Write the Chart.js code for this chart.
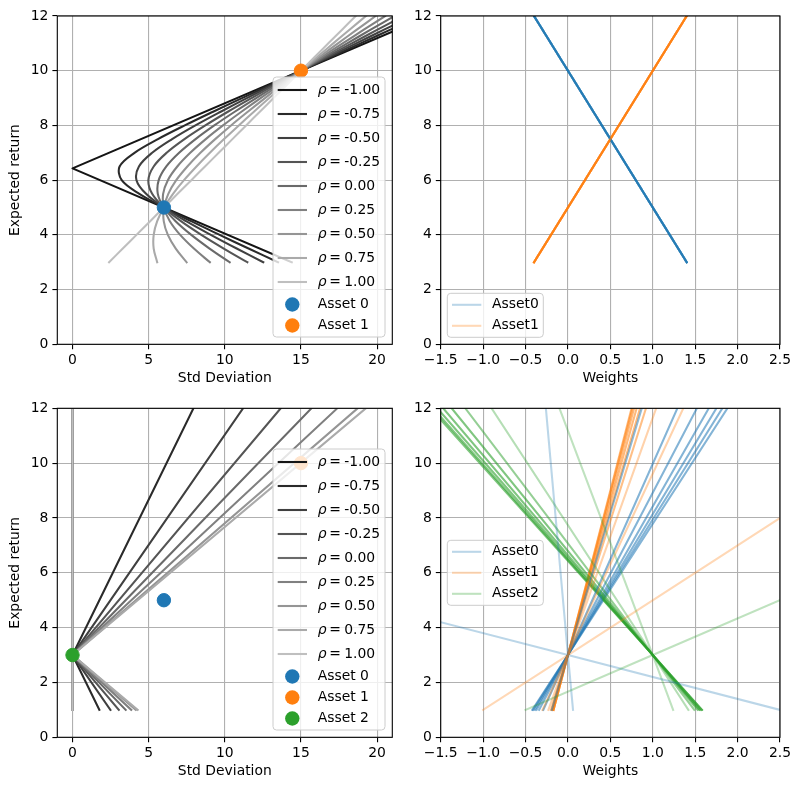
<!DOCTYPE html>
<html lang="en">
<head>
<meta charset="UTF-8">
<title>Portfolio frontiers</title>
<script src="https://cdn.jsdelivr.net/npm/chart.js"></script>
<style>
  body { margin: 0; background: #fff; }
  canvas { position: absolute; }
</style>
</head>
<body>
<canvas id="tl" width="400" height="395" style="left:0;top:0"></canvas>
<canvas id="tr" width="400" height="395" style="left:400px;top:0"></canvas>
<canvas id="bl" width="400" height="395" style="left:0;top:395px"></canvas>
<canvas id="br" width="400" height="395" style="left:400px;top:395px"></canvas>
<script>
// ---- data ----
const rhoLabels = ['-1.00', '-0.75', '-0.50', '-0.25', '0.00', '0.25', '0.50', '0.75', '1.00'];
const rhoGreys = ['#151515', '#2a2a2a', '#404040', '#555555', '#6a6a6a', '#808080', '#959595', '#aaaaaa', '#bfbfbf'];

// assets: std deviation / expected return
const assetStd = [6, 15, 0];
const assetRet = [5, 10, 3];

// top left: std deviation of the two asset mix, read at these returns
const tlReturns = [3, 3.5, 4, 4.5, 5, 5.5, 6, 6.5, 7, 7.5, 8, 8.5, 9, 9.5, 10, 10.5, 11, 11.5, 12];
const tlStd = [
  null, // rho = -1 uses the two straight legs below
  [13.50, 11.56, 9.66, 7.79, 6.00, 4.39, 3.23, 3.09, 4.07, 5.61, 7.37, 9.23, 11.13, 13.06, 15.00, 16.96, 18.92, 20.88, 22.86],
  [12.53, 10.78, 9.08, 7.46, 6.00, 4.83, 4.20, 4.36, 5.23, 6.54, 8.07, 9.73, 11.45, 13.21, 15.00, 16.81, 18.63, 20.46, 22.30],
  [11.48, 9.93, 8.46, 7.12, 6.00, 5.23, 4.98, 5.33, 6.18, 7.35, 8.72, 10.20, 11.76, 13.36, 15.00, 16.66, 18.34, 20.03, 21.72],
  [10.32, 9.00, 7.80, 6.77, 6.00, 5.60, 5.66, 6.16, 7.00, 8.08, 9.31, 10.65, 12.06, 13.51, 15.00, 16.51, 18.04, 19.58, 21.14],
  [9.02, 7.97, 7.07, 6.39, 6.00, 5.95, 6.26, 6.88, 7.73, 8.75, 9.88, 11.09, 12.35, 13.66, 15.00, 16.36, 17.74, 19.13, 20.53],
  [7.49, 6.78, 6.26, 5.99, 6.00, 6.29, 6.81, 7.54, 8.40, 9.37, 10.41, 11.51, 12.64, 13.81, 15.00, 16.21, 17.43, 18.67, 19.91],
  [5.56, 5.33, 5.33, 5.56, 6.00, 6.60, 7.32, 8.14, 9.02, 9.95, 10.92, 11.91, 12.92, 13.96, 15.00, 16.06, 17.12, 18.19, 19.27],
  [2.40, 3.30, 4.20, 5.10, 6.00, 6.90, 7.80, 8.70, 9.60, 10.50, 11.40, 12.30, 13.20, 14.10, 15.00, 15.90, 16.80, 17.70, 18.60]
];
const tlRetRhoM1 = [3, 6.43, 12];
const tlStdRhoM1 = [14.4, 0, 23.4];

// top right: weights (same for every rho)
const trReturns = [3, 12];
const trW0 = [1.4, -0.4];
const trW1 = [-0.4, 1.4];

// bottom left: with the riskless asset 2
const blReturns = [1, 3, 12];
const blStd = [
  [0, 0, 0], [1.76, 0, 7.94], [2.49, 0, 11.20], [3.04, 0, 13.67], [3.49, 0, 15.69],
  [3.86, 0, 17.39], [4.16, 0, 18.72], [4.28, 0, 19.26], [0, 0, 0]
];

// bottom right: weights of the three assets
const brReturns = [1, 3, 12];
const brW0 = [
  [-0.42, 0, 1.88], [-0.41, 0, 1.82], [-0.39, 0, 1.75], [-0.37, 0, 1.66], [-0.34, 0, 1.52],
  [-0.29, 0, 1.29], [-0.19, 0, 0.87], [0.06, 0, -0.26], [2.5, 0, -11.25]
];
const brW1 = [
  [-0.17, 0, 0.75], [-0.17, 0, 0.76], [-0.17, 0, 0.78], [-0.18, 0, 0.81], [-0.19, 0, 0.85],
  [-0.20, 0, 0.92], [-0.23, 0, 1.04], [-0.30, 0, 1.36], [-1.0, 0, 4.5]
];
const brW2 = [
  [1.58, 1, -1.62], [1.58, 1, -1.59], [1.56, 1, -1.54], [1.55, 1, -1.47], [1.53, 1, -1.37],
  [1.49, 1, -1.21], [1.42, 1, -0.90], [1.24, 1, -0.10], [-0.5, 1, 7.75]
];

// ticks
const stdTicks = [0, 5, 10, 15, 20];
const stdTickLabels = ['0', '5', '10', '15', '20'];
const weightTicks = [-1.5, -1, -0.5, 0, 0.5, 1, 1.5, 2, 2.5];
const weightTickLabels = ['\u22121.5', '\u22121.0', '\u22120.5', '0.0', '0.5', '1.0', '1.5', '2.0', '2.5'];
const retTicks = [0, 2, 4, 6, 8, 10, 12];
const retTickLabels = ['0', '2', '4', '6', '8', '10', '12'];

// ---- styling ----
const FONT = '"DejaVu Sans", sans-serif';
Chart.defaults.font.family = FONT;
Chart.defaults.font.size = 13.9;
Chart.defaults.color = '#000';
Chart.defaults.animation = false;
Chart.defaults.events = [];
Chart.defaults.plugins.legend.display = false;
Chart.defaults.plugins.tooltip.enabled = false;

const tab = { blue: [31, 119, 180], orange: [255, 127, 14], green: [44, 160, 44] };
const rgba = (c, a) => `rgba(${c[0]},${c[1]},${c[2]},${a})`;
const hex = { blue: '#1f77b4', orange: '#ff7f0e', green: '#2ca02c' };

const gridStyle = { color: '#b0b0b0', lineWidth: 1.1, drawTicks: true, tickLength: 4.9, tickColor: '#000', tickWidth: 1.1 };

function xAxis(min, max, ticks, labels, title, height, titlePad) {
  return {
    type: 'linear', position: 'bottom', min, max,
    afterBuildTicks: s => { s.ticks = ticks.map(v => ({ value: v })); },
    afterFit: s => { s.height = height; },
    ticks: { callback: (v, i) => labels[i], padding: 2.5, maxRotation: 0, autoSkip: false },
    grid: gridStyle,
    border: { display: false },
    title: { display: !!title, text: title || '', padding: { top: 0, bottom: titlePad } }
  };
}

function yAxis(width, title) {
  return {
    type: 'linear', position: 'left', min: 0, max: 12,
    afterBuildTicks: s => { s.ticks = retTicks.map(v => ({ value: v })); },
    afterFit: s => { s.width = width; },
    ticks: { callback: (v, i) => retTickLabels[i], padding: 4, autoSkip: false },
    grid: gridStyle,
    border: { display: false },
    title: { display: !!title, text: title || '', padding: { top: 7.2, bottom: 0 } }
  };
}

function line(xs, ys, color, extra) {
  return Object.assign({
    data: xs.map((x, i) => ({ x, y: ys[i] })),
    borderColor: color, borderWidth: 2.08, pointRadius: 0, fill: false,
    tension: 0, capBezierPoints: false, borderCapStyle: 'square', borderJoinStyle: 'round', clip: 0
  }, extra || {});
}

function marker(k, color, label) {
  return {
    label, inLegend: true, showLine: false, data: [{ x: assetStd[k], y: assetRet[k] }],
    pointRadius: 6.7, pointBorderWidth: 1, pointBackgroundColor: color, pointBorderColor: color,
    markerColor: color, clip: 0
  };
}

function roundRect(ctx, x, y, w, h, r) {
  ctx.beginPath();
  ctx.moveTo(x + r, y);
  ctx.arcTo(x + w, y, x + w, y + h, r);
  ctx.arcTo(x + w, y + h, x, y + h, r);
  ctx.arcTo(x, y + h, x, y, r);
  ctx.arcTo(x, y, x + w, y, r);
  ctx.closePath();
}

function drawLegend(ctx, a, items, loc, w) {
  const font = '13.9px ' + FONT;
  const isRho = d => d.label.startsWith('\u03c1');
  const rowH = items.map(d => isRho(d) ? 24 : 21);
  const h = 2 + rowH.reduce((s, v) => s + v, 0);
  let left, top;
  if (loc === 'lower right') { left = a.right - 7.3 - w; top = a.bottom - 7.3 - h; }
  else if (loc === 'lower left') { left = a.left + 6.6; top = a.bottom - 7 - h; }
  else { left = a.left + 6.6; top = (a.top + a.bottom) / 2 - h / 2; }

  roundRect(ctx, left, top, w, h, 3.5);
  ctx.fillStyle = 'rgba(255,255,255,0.8)';
  ctx.fill();
  ctx.strokeStyle = '#cccccc';
  ctx.lineWidth = 1;
  ctx.stroke();

  let y = top + 1;
  const tx = left + 44.7;
  items.forEach((d, i) => {
    const cy = y + rowH[i] / 2;
    y += rowH[i];
    if (d.showLine === false) {
      ctx.beginPath();
      ctx.arc(left + 19.3, cy, 7.2, 0, Math.PI * 2);
      ctx.fillStyle = d.markerColor;
      ctx.fill();
    } else {
      ctx.beginPath();
      ctx.moveTo(left + 4.7, cy);
      ctx.lineTo(left + 34, cy);
      ctx.strokeStyle = d.legendColor || d.borderColor;
      ctx.lineWidth = 2.08;
      ctx.lineCap = 'butt';
      ctx.stroke();
    }
    ctx.fillStyle = '#000';
    ctx.textBaseline = 'middle';
    ctx.textAlign = 'left';
    if (isRho(d)) {
      ctx.font = 'italic ' + font;
      ctx.fillText('\u03c1', tx, cy);
      ctx.font = font;
      ctx.fillText('=', tx + 11.5, cy);
      ctx.fillText(d.label.split('= ')[1], tx + 26.5, cy);
    } else {
      ctx.font = font;
      ctx.fillText(d.label, tx, cy);
    }
  });
}

const frameAndLegend = {
  id: 'frameAndLegend',
  afterDatasetsDraw(chart, args, opts) {
    const ctx = chart.ctx, a = chart.chartArea;
    ctx.save();
    ctx.strokeStyle = '#000';
    ctx.lineWidth = 1.1;
    ctx.strokeRect(a.left, a.top, a.right - a.left, a.bottom - a.top);
    const items = chart.data.datasets.filter(d => d.inLegend);
    if (items.length) drawLegend(ctx, a, items, opts.loc, opts.width);
    ctx.restore();
  }
};

function build(id, datasets, scales, padding, loc, width) {
  datasets.forEach((d, i) => { d.order = datasets.length - i; });
  return new Chart(document.getElementById(id), {
    type: 'line',
    data: { datasets },
    options: {
      responsive: false,
      layout: { padding },
      scales,
      plugins: { frameAndLegend: { loc, width } }
    },
    plugins: [frameAndLegend]
  });
}

// ---- top left ----
const tlSets = rhoLabels.map((r, k) => k === 0
  ? line(tlStdRhoM1, tlRetRhoM1, rhoGreys[k], { label: '\u03c1 = ' + r, inLegend: true })
  : line(tlStd[k], tlReturns, rhoGreys[k], { label: '\u03c1 = ' + r, inLegend: true, tension: 0.35 }));
tlSets.push(marker(0, hex.blue, 'Asset 0'), marker(1, hex.orange, 'Asset 1'));
build('tl', tlSets, {
  x: xAxis(-1, 21, stdTicks, stdTickLabels, 'Std Deviation', 50.7, 8.2),
  y: yAxis(57.3, 'Expected return')
}, { left: 0, top: 16, right: 2.7, bottom: 0 }, 'lower right', 112);

// ---- top right ----
const trSets = [];
rhoLabels.forEach((r, k) => {
  trSets.push(line(trW0, trReturns, rgba(tab.blue, 0.3), k === 0 ? { label: 'Asset0', inLegend: true } : {}));
  trSets.push(line(trW1, trReturns, rgba(tab.orange, 0.3), k === 0 ? { label: 'Asset1', inLegend: true } : {}));
});
build('tr', trSets, {
  x: xAxis(-1.5, 2.5, weightTicks, weightTickLabels, 'Weights', 50.7, 8.2),
  y: yAxis(40.7, '')
}, { left: 0, top: 16, right: 20, bottom: 0 }, 'lower left', 96);

// ---- bottom left ----
const blSets = rhoLabels.map((r, k) =>
  line(blStd[k], blReturns, rhoGreys[k], { label: '\u03c1 = ' + r, inLegend: true }));
blSets.push(marker(0, hex.blue, 'Asset 0'), marker(1, hex.orange, 'Asset 1'), marker(2, hex.green, 'Asset 2'));
build('bl', blSets, {
  x: xAxis(-1, 21, stdTicks, stdTickLabels, 'Std Deviation', 52.7, 10),
  y: yAxis(57.3, 'Expected return')
}, { left: 0, top: 13.3, right: 2.7, bottom: 0 }, 'lower right', 112);

// ---- bottom right ----
const blueAlpha = [0.55, 0.55, 0.55, 0.55, 0.55, 0.55, 0.5, 0.3, 0.3];
const orangeAlpha = [0.55, 0.55, 0.55, 0.55, 0.55, 0.5, 0.35, 0.35, 0.3];
const greenAlpha = [0.6, 0.6, 0.6, 0.6, 0.6, 0.5, 0.35, 0.3, 0.3];
const brSets = [];
rhoLabels.forEach((r, k) => {
  const first = k === 0;
  brSets.push(line(brW0[k], brReturns, rgba(tab.blue, blueAlpha[k]),
    first ? { label: 'Asset0', inLegend: true, legendColor: rgba(tab.blue, 0.3) } : {}));
  brSets.push(line(brW1[k], brReturns, rgba(tab.orange, orangeAlpha[k]),
    first ? { label: 'Asset1', inLegend: true, legendColor: rgba(tab.orange, 0.3) } : {}));
  brSets.push(line(brW2[k], brReturns, rgba(tab.green, greenAlpha[k]),
    first ? { label: 'Asset2', inLegend: true, legendColor: rgba(tab.green, 0.3) } : {}));
});
build('br', brSets, {
  x: xAxis(-1.5, 2.5, weightTicks, weightTickLabels, 'Weights', 52.7, 10),
  y: yAxis(40.7, '')
}, { left: 0, top: 13.3, right: 20, bottom: 0 }, 'center left', 96);
</script>
</body>
</html>
